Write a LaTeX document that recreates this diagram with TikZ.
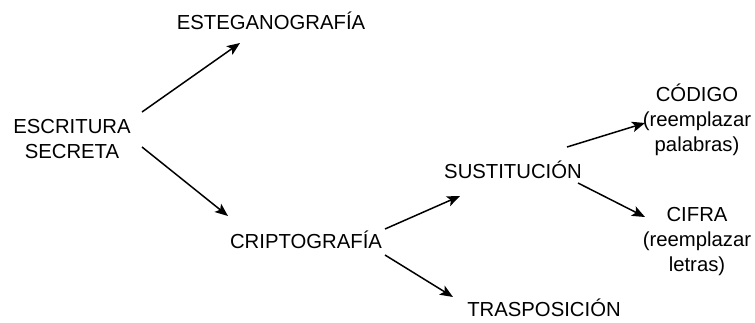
\documentclass[tikz,border=0pt]{standalone}
\usepackage{fontspec}
\setmainfont{Liberation Sans}
\usetikzlibrary{arrows.meta}
\begin{document}
\begin{tikzpicture}[x=1pt,y=-1pt,
  lbl/.style={align=center,inner sep=0pt,font=\fontsize{20.3}{25}\selectfont},
  conn/.style={line width=1.5pt,-{Stealth[length=13pt,width=10.5pt,inset=3pt]}}]
\useasboundingbox (0,0) rectangle (755,322);
\node[lbl] (esc) at (72,139) {ESCRITURA\\SECRETA};
\node[lbl] (est) at (271,21) {ESTEGANOGRAFÍA};
\node[lbl] (cri) at (306,240) {CRIPTOGRAFÍA};
\node[lbl] (sus) at (513,170) {SUSTITUCIÓN};
\node[lbl] (tra) at (544,308) {TRASPOSICIÓN};
\node[lbl] (cod) at (697,120) {CÓDIGO\\(reemplazar\\palabras)};
\node[lbl] (cif) at (697,242) {CIFRA\\(reemplazar\\letras)};
\coordinate (e1) at (240,43);
\coordinate (e2) at (228,216);
\coordinate (e3) at (460,196);
\coordinate (e4) at (453,297);
\coordinate (e5) at (645,123);
\coordinate (e6) at (645,217);
\coordinate (s1) at (142,112);
\coordinate (s2) at (142,147);
\coordinate (s3) at (385,229);
\coordinate (s4) at (385,255);
\coordinate (s5) at (567,147);
\coordinate (s6) at (578,183);
\draw[conn] (s1) -- (e1);
\draw[conn] (s2) -- (e2);
\draw[conn] (s3) -- (e3);
\draw[conn] (s4) -- (e4);
\draw[conn] (s5) -- (e5);
\draw[conn] (s6) -- (e6);
\end{tikzpicture}
\end{document}
